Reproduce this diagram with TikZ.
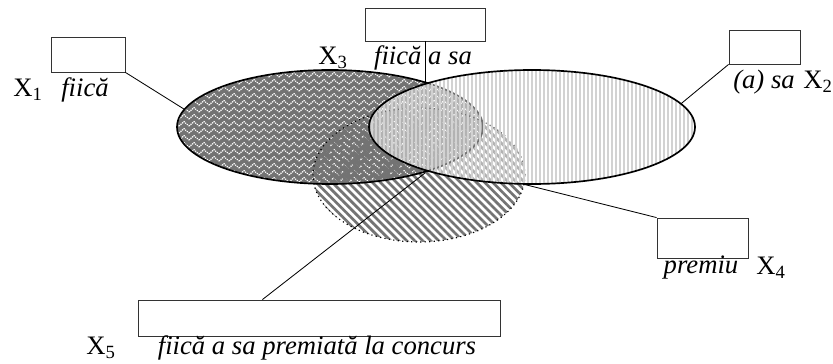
\documentclass[tikz,border=0pt]{standalone}
\usepackage{fontspec}
\setmainfont{Liberation Serif}
\usetikzlibrary{patterns,patterns.meta,calc}

\tikzdeclarepattern{
  name=zigzag,
  type=uncolored,
  bottom left={(0pt,0pt)},
  top right={(6pt,4pt)},
  tile size={(6pt,4pt)},
  code={\draw[line width=0.75pt, dash pattern=on 0.7pt off 0.6pt] (0pt,0.6pt) -- (3pt,3.4pt) -- (6pt,0.6pt);}
}

\begin{document}
\begin{tikzpicture}[x=0.6pt,y=0.6pt,
    box/.style={draw=black!80, line width=0.5pt, inner sep=0pt},
    lbl/.style={inner sep=0pt, font=\fontsize{16}{19}\selectfont},
    wrd/.style={inner sep=0pt, font=\fontsize{16}{19}\selectfont\itshape},
    link/.style={line width=0.5pt}]
    \useasboundingbox (0,0) rectangle (833,363);
    \coordinate (c1) at (330,236);
    \coordinate (c2) at (532,236);
    \coordinate (c5) at (419,188);
    \fill[black!55] (c1) ellipse [x radius=153, y radius=57];
    \fill[pattern=zigzag, pattern color=white] (c1) ellipse [x radius=153, y radius=57];
    \fill[pattern={Lines[angle=-45,distance=3.4pt,line width=1.6pt]}, pattern color=black!55] (c5) ellipse [x radius=106, y radius=67];
    \draw[line width=1pt] (c1) ellipse [x radius=153, y radius=57];
    \draw[dotted, line width=0.7pt] (c5) ellipse [x radius=106, y radius=67];
    \fill[white, opacity=0.45] (c2) ellipse [x radius=163, y radius=57];
    \fill[pattern={Lines[angle=90,distance=2.4pt,line width=0.8pt]}, pattern color=gray!35] (c2) ellipse [x radius=163, y radius=57];
    \draw[line width=1pt] (c2) ellipse [x radius=163, y radius=57];
    \coordinate (p1) at ($(c1)+(162:153 and 57)$);
    \coordinate (p2) at ($(c2)+(24:163 and 57)$);
    \coordinate (p3) at (425,281);
    \coordinate (p4) at ($(c5)+(-8:106 and 67)$);
    \coordinate (p5) at (425,190);
    \node[box, minimum width=44.4pt, minimum height=21pt] (b1) at (88,308.5) {};
    \node[box, minimum width=72pt, minimum height=19.8pt] (b3) at (425,338.5) {};
    \node[box, minimum width=42.6pt, minimum height=20.4pt] (b2) at (764.5,316) {};
    \node[box, minimum width=54.6pt, minimum height=24pt] (b4) at (702.5,125) {};
    \node[box, minimum width=217.2pt, minimum height=21.6pt] (b5) at (319,45) {};
    \draw[link] (b1.south east) -- (p1);
    \draw[link] (b3.south) -- (p3);
    \draw[link] (b2.south west) -- (p2);
    \draw[link] (b4.north west) -- (p4);
    \draw[link] ($(b5.north west)!0.344!(b5.north east)$) -- (p5);
    \node[lbl] (x1) at (28,273) {X\textsubscript{1}};
    \node[wrd] (w1) at (85,273) {fiică};
    \node[lbl] (x3) at (333,305) {X\textsubscript{3}};
    \node[wrd] (w3) at (423,305) {fiică a sa};
    \node[wrd] (w2) at (764,281) {(a) sa};
    \node[lbl] (x2) at (818,281) {X\textsubscript{2}};
    \node[wrd] (w4) at (701,95) {premiu};
    \node[lbl] (x4) at (771,95) {X\textsubscript{4}};
    \node[lbl] (x5) at (101,15) {X\textsubscript{5}};
    \node[wrd] (w5) at (317,15) {fiică a sa premiată la concurs};
\end{tikzpicture}
\end{document}
